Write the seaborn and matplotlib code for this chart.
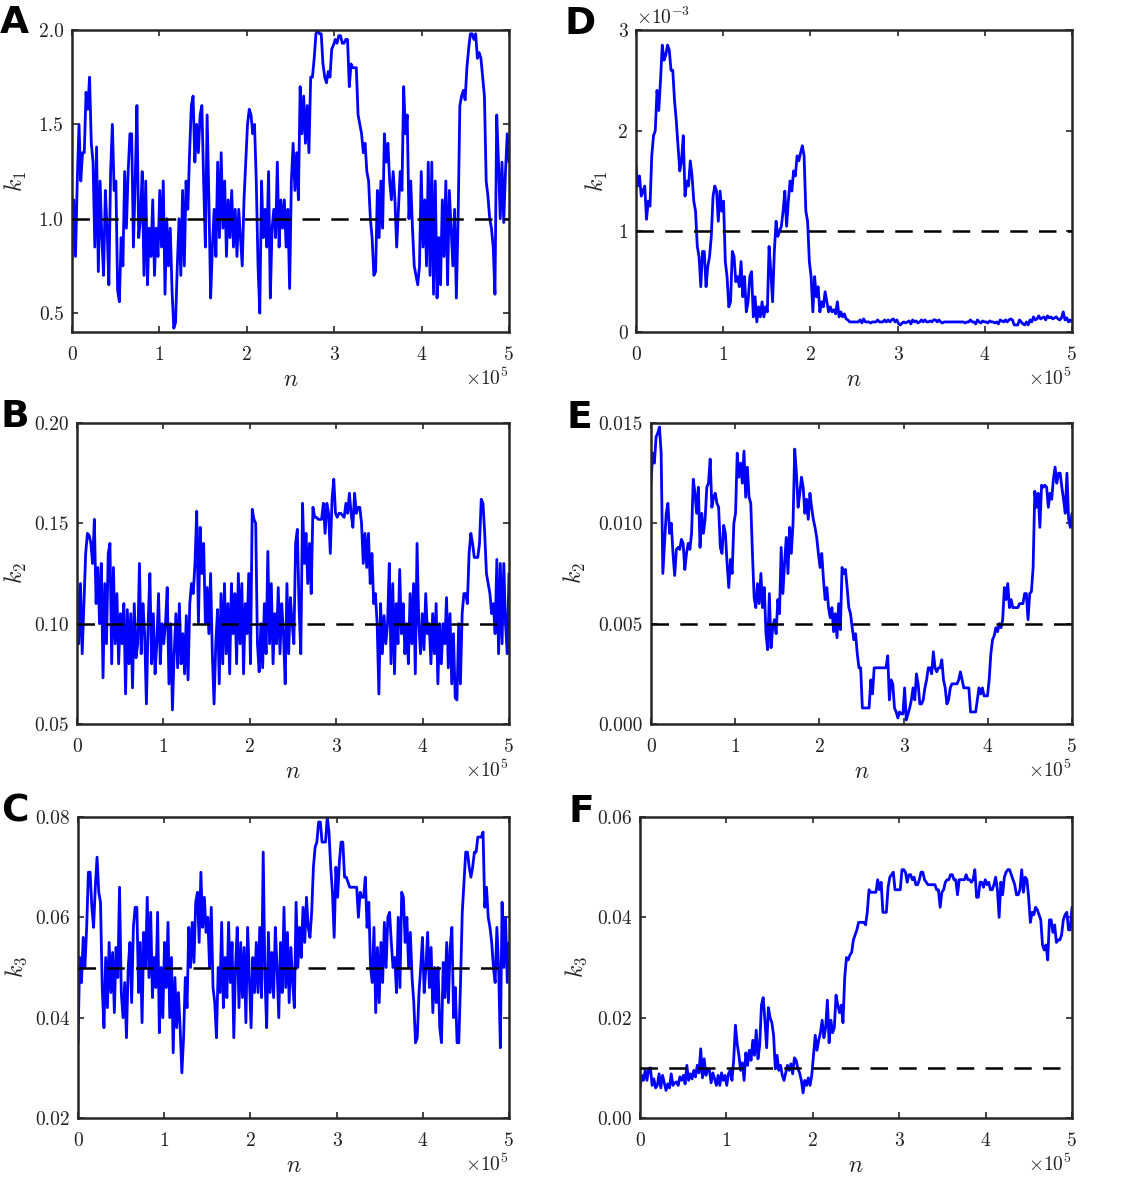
import numpy as np
import matplotlib
matplotlib.use("Agg")
import matplotlib.pyplot as plt
from matplotlib.ticker import FuncFormatter, FormatStrFormatter
import seaborn as sns

# ---------------- data ----------------
n_max = 5e5

k1_A = [
    0.78, 1.10, 0.80, 1.20, 1.50, 1.20, 1.35, 1.35, 1.67, 1.58,
    1.75, 1.40, 1.30, 0.85, 1.38, 0.72, 1.20, 0.90, 0.70, 1.15,
    0.95, 0.65, 1.25, 1.50, 1.15, 1.20, 0.62, 0.56, 0.90, 0.75,
    1.25, 0.95, 1.25, 1.45, 1.45, 0.85, 1.20, 1.60, 0.90, 1.00,
    1.25, 0.70, 1.20, 0.65, 0.95, 0.80, 1.10, 0.70, 0.95, 0.80,
    1.15, 0.85, 1.20, 0.60, 1.00, 0.75, 0.95, 0.62, 0.42, 0.45,
    0.75, 1.00, 0.70, 1.15, 0.75, 1.20, 1.05, 1.35, 1.60, 1.65,
    1.30, 1.50, 1.35, 1.55, 1.60, 1.20, 0.85, 1.55, 1.10, 0.58,
    0.85, 1.05, 0.80, 1.30, 0.90, 1.35, 0.95, 1.20, 0.80, 1.10,
    0.90, 1.15, 0.85, 1.05, 0.80, 1.05, 0.90, 0.75, 1.10, 1.30,
    1.50, 1.58, 1.55, 1.45, 1.50, 1.20, 0.75, 0.50, 1.20, 0.90,
    1.05, 0.85, 1.25, 0.58, 0.95, 1.05, 0.90, 1.30, 0.85, 1.10,
    0.95, 1.10, 0.85, 1.05, 0.63, 1.20, 1.40, 1.15, 1.35, 1.10,
    1.70, 1.45, 1.65, 1.40, 1.60, 1.35, 1.75, 1.75, 1.85, 1.98,
    2.00, 1.98, 1.98, 1.82, 1.75, 1.72, 1.78, 1.75, 1.90, 1.92,
    1.95, 1.93, 1.97, 1.97, 1.93, 1.93, 1.95, 1.95, 1.70, 1.82,
    1.80, 1.80, 1.80, 1.55, 1.50, 1.45, 1.35, 1.40, 1.25, 1.20,
    1.00, 0.90, 0.70, 0.72, 1.15, 0.90, 1.20, 0.95, 1.45, 1.30,
    1.40, 1.20, 1.10, 1.25, 1.10, 0.85, 1.05, 1.25, 1.15, 1.70,
    1.45, 1.55, 1.00, 1.20, 0.95, 0.75, 0.70, 0.65, 0.75, 1.25,
    0.85, 1.10, 0.75, 1.30, 0.70, 1.30, 0.60, 1.20, 0.58, 0.90,
    0.65, 1.10, 0.80, 1.20, 0.65, 1.15, 0.95, 0.75, 1.05, 0.58,
    1.00, 1.60, 1.65, 1.68, 1.63, 1.80, 1.90, 1.98, 1.98, 1.95,
    1.98, 1.85, 1.88, 1.85, 1.75, 1.65, 1.20, 1.12, 1.00, 0.95,
    0.85, 0.60, 1.55, 1.30, 1.00, 1.30, 0.98, 1.25, 1.45, 1.30,
]

k2_B = [
    0.120, 0.090, 0.120, 0.085, 0.110, 0.135, 0.145, 0.144, 0.140, 0.130,
    0.152, 0.110, 0.128, 0.100, 0.130, 0.073, 0.120, 0.090, 0.135, 0.140,
    0.080, 0.128, 0.090, 0.115, 0.080, 0.105, 0.090, 0.110, 0.065, 0.107,
    0.080, 0.105, 0.068, 0.110, 0.083, 0.090, 0.130, 0.085, 0.110, 0.095,
    0.060, 0.100, 0.125, 0.080, 0.105, 0.075, 0.090, 0.115, 0.080, 0.100,
    0.090, 0.100, 0.118, 0.070, 0.100, 0.057, 0.085, 0.105, 0.078, 0.110,
    0.080, 0.095, 0.075, 0.104, 0.072, 0.110, 0.120, 0.115, 0.130, 0.156,
    0.100, 0.148, 0.125, 0.140, 0.100, 0.118, 0.095, 0.125, 0.085, 0.060,
    0.090, 0.107, 0.070, 0.115, 0.080, 0.120, 0.085, 0.110, 0.075, 0.120,
    0.095, 0.115, 0.080, 0.125, 0.090, 0.120, 0.075, 0.110, 0.095, 0.125,
    0.080, 0.157, 0.152, 0.150, 0.090, 0.076, 0.100, 0.078, 0.110, 0.085,
    0.136, 0.090, 0.120, 0.080, 0.105, 0.090, 0.118, 0.085, 0.110, 0.095,
    0.070, 0.120, 0.085, 0.113, 0.100, 0.090, 0.140, 0.147, 0.108, 0.085,
    0.160, 0.130, 0.145, 0.120, 0.140, 0.115, 0.158, 0.153, 0.153, 0.152,
    0.152, 0.152, 0.160, 0.145, 0.160, 0.155, 0.135, 0.162, 0.172, 0.155,
    0.153, 0.155, 0.155, 0.154, 0.153, 0.160, 0.155, 0.165, 0.155, 0.148,
    0.165, 0.155, 0.158, 0.158, 0.150, 0.130, 0.145, 0.128, 0.145, 0.120,
    0.135, 0.110, 0.115, 0.100, 0.065, 0.110, 0.085, 0.104, 0.090, 0.100,
    0.130, 0.080, 0.120, 0.075, 0.110, 0.090, 0.127, 0.095, 0.110, 0.085,
    0.100, 0.080, 0.115, 0.090, 0.120, 0.075, 0.140, 0.100, 0.085, 0.105,
    0.087, 0.115, 0.095, 0.100, 0.080, 0.105, 0.085, 0.110, 0.070, 0.100,
    0.080, 0.100, 0.090, 0.113, 0.078, 0.105, 0.070, 0.095, 0.063, 0.062,
    0.100, 0.070, 0.105, 0.115, 0.115, 0.110, 0.135, 0.145, 0.140, 0.133,
    0.133, 0.133, 0.140, 0.162, 0.160, 0.145, 0.125, 0.120, 0.115, 0.105,
    0.110, 0.095, 0.132, 0.085, 0.130, 0.090, 0.130, 0.100, 0.085, 0.125,
]

k3_C = [
    0.035, 0.052, 0.047, 0.056, 0.050, 0.058, 0.069, 0.069, 0.062, 0.058,
    0.066, 0.072, 0.065, 0.063, 0.046, 0.038, 0.052, 0.042, 0.055, 0.045,
    0.053, 0.041, 0.054, 0.048, 0.066, 0.045, 0.040, 0.047, 0.036, 0.050,
    0.055, 0.043, 0.058, 0.062, 0.062, 0.045, 0.055, 0.039, 0.057, 0.050,
    0.064, 0.048, 0.061, 0.044, 0.052, 0.046, 0.061, 0.037, 0.050, 0.040,
    0.055, 0.046, 0.059, 0.040, 0.052, 0.033, 0.048, 0.038, 0.045, 0.038,
    0.029, 0.036, 0.048, 0.042, 0.058, 0.050, 0.059, 0.051, 0.063, 0.065,
    0.055, 0.069, 0.058, 0.064, 0.057, 0.060, 0.050, 0.062, 0.046, 0.043,
    0.036, 0.050, 0.045, 0.059, 0.042, 0.052, 0.044, 0.059, 0.047, 0.055,
    0.036, 0.050, 0.058, 0.042, 0.055, 0.044, 0.054, 0.039, 0.058, 0.048,
    0.038, 0.052, 0.045, 0.055, 0.045, 0.058, 0.044, 0.073, 0.048, 0.038,
    0.057, 0.045, 0.053, 0.044, 0.058, 0.050, 0.040, 0.055, 0.045, 0.062,
    0.046, 0.057, 0.043, 0.054, 0.047, 0.042, 0.063, 0.050, 0.058, 0.052,
    0.062, 0.055, 0.064, 0.058, 0.056, 0.061, 0.070, 0.074, 0.075, 0.079,
    0.079, 0.075, 0.075, 0.075, 0.080, 0.077, 0.070, 0.065, 0.056, 0.070,
    0.064, 0.071, 0.075, 0.075, 0.068, 0.068, 0.067, 0.066, 0.066, 0.066,
    0.066, 0.066, 0.060, 0.065, 0.064, 0.064, 0.068, 0.058, 0.063, 0.050,
    0.047, 0.058, 0.041, 0.054, 0.043, 0.055, 0.047, 0.059, 0.050, 0.060,
    0.061, 0.055, 0.050, 0.052, 0.045, 0.060, 0.046, 0.065, 0.064, 0.055,
    0.060, 0.050, 0.057, 0.048, 0.043, 0.035, 0.036, 0.045, 0.050, 0.056,
    0.045, 0.050, 0.057, 0.046, 0.054, 0.041, 0.050, 0.043, 0.050, 0.038,
    0.035, 0.051, 0.044, 0.055, 0.043, 0.054, 0.058, 0.040, 0.046, 0.035,
    0.035, 0.047, 0.061, 0.067, 0.073, 0.073, 0.070, 0.068, 0.070, 0.073,
    0.073, 0.076, 0.076, 0.076, 0.077, 0.062, 0.066, 0.060, 0.058, 0.055,
    0.050, 0.047, 0.058, 0.050, 0.034, 0.063, 0.050, 0.060, 0.047, 0.055,
]

# panel D values in units of 1e-3
k1_D_milli = [
    1.65, 1.45, 1.55, 1.35, 1.40, 1.45, 1.12, 1.30, 1.25, 1.75,
    1.95, 2.00, 2.40, 2.20, 2.50, 2.85, 2.70, 2.75, 2.85, 2.80,
    2.60, 2.60, 2.30, 2.10, 1.85, 1.60, 1.70, 1.95, 1.35, 1.50,
    1.45, 1.70, 1.55, 1.30, 1.20, 0.85, 0.75, 0.45, 0.80, 0.80,
    0.45, 0.65, 0.75, 0.95, 1.35, 1.45, 1.40, 1.10, 1.40, 1.20,
    1.30, 0.70, 0.55, 0.25, 0.30, 0.80, 0.75, 0.50, 0.55, 0.45,
    0.70, 0.35, 0.55, 0.20, 0.30, 0.55, 0.60, 0.15, 0.35, 0.10,
    0.25, 0.15, 0.30, 0.15, 0.25, 0.20, 0.85, 0.60, 0.30, 0.80,
    1.10, 0.95, 1.00, 1.05, 1.20, 1.40, 1.05, 1.30, 1.50, 1.40,
    1.60, 1.55, 1.75, 1.70, 1.78, 1.85, 1.75, 1.20, 1.10, 0.70,
    0.55, 0.20, 0.55, 0.35, 0.45, 0.20, 0.30, 0.25, 0.40, 0.30,
    0.20, 0.25, 0.20, 0.22, 0.18, 0.30, 0.15, 0.20, 0.15, 0.18,
    0.13, 0.12, 0.10, 0.10, 0.10, 0.10, 0.10, 0.10, 0.12, 0.09,
    0.13, 0.10, 0.10, 0.10, 0.09, 0.10, 0.10, 0.10, 0.12, 0.10,
    0.10, 0.10, 0.12, 0.10, 0.12, 0.10, 0.12, 0.13, 0.10, 0.12,
    0.08, 0.07, 0.09, 0.10, 0.09, 0.10, 0.11, 0.08, 0.12, 0.10,
    0.11, 0.09, 0.10, 0.12, 0.10, 0.12, 0.10, 0.10, 0.11, 0.10,
    0.12, 0.12, 0.10, 0.12, 0.10, 0.09, 0.10, 0.10, 0.10, 0.10,
    0.10, 0.10, 0.10, 0.10, 0.10, 0.10, 0.10, 0.10, 0.09, 0.10,
    0.10, 0.12, 0.10, 0.10, 0.08, 0.12, 0.10, 0.09, 0.11, 0.10,
    0.10, 0.09, 0.11, 0.10, 0.10, 0.09, 0.10, 0.08, 0.12, 0.11,
    0.10, 0.12, 0.10, 0.12, 0.13, 0.12, 0.07, 0.07, 0.07, 0.12,
    0.10, 0.08, 0.07, 0.10, 0.07, 0.12, 0.10, 0.15, 0.12, 0.13,
    0.16, 0.13, 0.14, 0.15, 0.12, 0.16, 0.14, 0.15, 0.13, 0.14,
    0.15, 0.13, 0.12, 0.14, 0.20, 0.12, 0.14, 0.10, 0.12, 0.10,
]

k2_E = [
    0.0120, 0.0135, 0.0130, 0.0143, 0.0145, 0.0148, 0.0135, 0.0075, 0.0090, 0.0105,
    0.0110, 0.0095, 0.0100, 0.0085, 0.0074, 0.0087, 0.0088, 0.0087, 0.0092, 0.0090,
    0.0077, 0.0085, 0.0090, 0.0087, 0.0095, 0.0122, 0.0115, 0.0105, 0.0118, 0.0088,
    0.0105, 0.0095, 0.0102, 0.0118, 0.0120, 0.0132, 0.0108, 0.0113, 0.0115, 0.0110,
    0.0108, 0.0088, 0.0085, 0.0099, 0.0095, 0.0080, 0.0068, 0.0082, 0.0075, 0.0100,
    0.0105, 0.0135, 0.0123, 0.0130, 0.0120, 0.0136, 0.0113, 0.0128, 0.0113, 0.0110,
    0.0085, 0.0063, 0.0058, 0.0070, 0.0060, 0.0075, 0.0058, 0.0068, 0.0045, 0.0037,
    0.0065, 0.0038, 0.0048, 0.0052, 0.0045, 0.0062, 0.0055, 0.0088, 0.0065, 0.0080,
    0.0093, 0.0075, 0.0098, 0.0085, 0.0100, 0.0137, 0.0125, 0.0108, 0.0115, 0.0123,
    0.0118, 0.0105, 0.0112, 0.0102, 0.0115, 0.0108, 0.0102, 0.0098, 0.0093, 0.0085,
    0.0078, 0.0085, 0.0072, 0.0062, 0.0068, 0.0058, 0.0053, 0.0058, 0.0046, 0.0055,
    0.0043, 0.0060, 0.0047, 0.0078, 0.0075, 0.0077, 0.0068, 0.0058, 0.0055, 0.0048,
    0.0042, 0.0045, 0.0035, 0.0028, 0.0028, 0.0008, 0.0008, 0.0008, 0.0008, 0.0008,
    0.0022, 0.0015, 0.0028, 0.0028, 0.0028, 0.0028, 0.0028, 0.0028, 0.0028, 0.0028,
    0.0034, 0.0012, 0.0022, 0.0020, 0.0008, 0.0006, 0.0003, 0.0006, 0.0005, 0.0005,
    0.0018, 0.0002, 0.0005, 0.0008, 0.0012, 0.0018, 0.0012, 0.0025, 0.0020, 0.0010,
    0.0010, 0.0012, 0.0018, 0.0022, 0.0028, 0.0028, 0.0025, 0.0036, 0.0028, 0.0026,
    0.0028, 0.0028, 0.0032, 0.0022, 0.0018, 0.0010, 0.0012, 0.0018, 0.0020, 0.0020,
    0.0020, 0.0020, 0.0022, 0.0026, 0.0022, 0.0018, 0.0018, 0.0018, 0.0018, 0.0006,
    0.0006, 0.0006, 0.0006, 0.0012, 0.0018, 0.0015, 0.0018, 0.0014, 0.0014, 0.0014,
    0.0022, 0.0035, 0.0042, 0.0044, 0.0048, 0.0046, 0.0050, 0.0048, 0.0052, 0.0068,
    0.0062, 0.0070, 0.0058, 0.0062, 0.0058, 0.0058, 0.0058, 0.0058, 0.0060, 0.0060,
    0.0060, 0.0065, 0.0065, 0.0052, 0.0065, 0.0066, 0.0078, 0.0116, 0.0108, 0.0115,
    0.0098, 0.0119, 0.0118, 0.0119, 0.0118, 0.0108, 0.0115, 0.0112, 0.0122, 0.0128,
    0.0120, 0.0125, 0.0125, 0.0118, 0.0112, 0.0105, 0.0125, 0.0102, 0.0098, 0.0105,
]

k3_F = [
    0.0060, 0.0085, 0.0075, 0.0095, 0.0075, 0.0098, 0.0100, 0.0065, 0.0078, 0.0060,
    0.0065, 0.0088, 0.0060, 0.0085, 0.0070, 0.0055, 0.0068, 0.0060, 0.0088, 0.0065,
    0.0070, 0.0072, 0.0065, 0.0082, 0.0075, 0.0085, 0.0068, 0.0105, 0.0075, 0.0088,
    0.0078, 0.0095, 0.0082, 0.0105, 0.0090, 0.0138, 0.0080, 0.0118, 0.0085, 0.0098,
    0.0095, 0.0070, 0.0090, 0.0078, 0.0065, 0.0085, 0.0065, 0.0090, 0.0075, 0.0085,
    0.0065, 0.0088, 0.0095, 0.0075, 0.0115, 0.0185, 0.0148, 0.0125, 0.0095, 0.0110,
    0.0075, 0.0130, 0.0105, 0.0135, 0.0115, 0.0155, 0.0125, 0.0175, 0.0118, 0.0145,
    0.0225, 0.0240, 0.0195, 0.0140, 0.0220, 0.0200, 0.0190, 0.0165, 0.0098, 0.0125,
    0.0095, 0.0105, 0.0085, 0.0075, 0.0090, 0.0105, 0.0095, 0.0108, 0.0088, 0.0120,
    0.0115, 0.0098, 0.0090, 0.0075, 0.0050, 0.0075, 0.0065, 0.0080, 0.0065, 0.0085,
    0.0125, 0.0165, 0.0135, 0.0155, 0.0170, 0.0195, 0.0160, 0.0180, 0.0235, 0.0150,
    0.0195, 0.0170, 0.0180, 0.0245, 0.0225, 0.0210, 0.0225, 0.0190, 0.0280, 0.0320,
    0.0315, 0.0325, 0.0330, 0.0355, 0.0365, 0.0375, 0.0390, 0.0390, 0.0390, 0.0390,
    0.0385, 0.0410, 0.0455, 0.0450, 0.0450, 0.0450, 0.0450, 0.0475, 0.0455, 0.0470,
    0.0410, 0.0410, 0.0410, 0.0460, 0.0480, 0.0485, 0.0490, 0.0455, 0.0455, 0.0455,
    0.0455, 0.0495, 0.0495, 0.0490, 0.0470, 0.0485, 0.0485, 0.0475, 0.0480, 0.0465,
    0.0465, 0.0475, 0.0490, 0.0490, 0.0475, 0.0470, 0.0465, 0.0465, 0.0465, 0.0465,
    0.0465, 0.0455, 0.0455, 0.0420, 0.0450, 0.0455, 0.0470, 0.0475, 0.0475, 0.0485,
    0.0485, 0.0475, 0.0475, 0.0445, 0.0475, 0.0475, 0.0475, 0.0475, 0.0485, 0.0475,
    0.0475, 0.0470, 0.0475, 0.0495, 0.0440, 0.0440, 0.0470, 0.0470, 0.0460, 0.0475,
    0.0465, 0.0470, 0.0455, 0.0455, 0.0465, 0.0480, 0.0455, 0.0400, 0.0470, 0.0445,
    0.0480, 0.0490, 0.0495, 0.0495, 0.0485, 0.0475, 0.0465, 0.0445, 0.0445, 0.0455,
    0.0495, 0.0450, 0.0480, 0.0475, 0.0440, 0.0390, 0.0410, 0.0405, 0.0420, 0.0415,
    0.0405, 0.0395, 0.0345, 0.0335, 0.0345, 0.0315, 0.0395, 0.0395, 0.0370, 0.0385,
    0.0350, 0.0355, 0.0355, 0.0365, 0.0395, 0.0405, 0.0410, 0.0375, 0.0375, 0.0420,
]

true_values = {"A": 1.0, "B": 0.10, "C": 0.05, "D": 1.0e-3, "E": 0.005, "F": 0.01}
ylabels = {"A": r"$k_1$", "B": r"$k_2$", "C": r"$k_3$",
           "D": r"$k_1$", "E": r"$k_2$", "F": r"$k_3$"}
yticks = {"A": [0.5, 1.0, 1.5, 2.0], "B": [0.05, 0.10, 0.15, 0.20],
          "C": [0.02, 0.04, 0.06, 0.08], "D": [0, 1e-3, 2e-3, 3e-3],
          "E": [0.0, 0.005, 0.010, 0.015], "F": [0.0, 0.02, 0.04, 0.06]}
ylims = {"A": (0.4, 2.0), "B": (0.05, 0.20), "C": (0.02, 0.08),
         "D": (0.0, 3e-3), "E": (0.0, 0.015), "F": (0.0, 0.06)}
xticks = [0, 1e5, 2e5, 3e5, 4e5, 5e5]

# ---------------- style ----------------
sns.set_style("ticks")
plt.rcParams["font.family"] = ["cmr10", "DejaVu Serif"]
plt.rcParams["mathtext.fontset"] = "cm"
plt.rcParams["axes.formatter.use_mathtext"] = True
plt.rcParams["axes.unicode_minus"] = False

W, H = 1125, 1182
fig = plt.figure(figsize=(W / 100, H / 100), dpi=100)

# pixel boxes (left, top, right, bottom) and label positions
boxes = {
    "A": (72, 30, 509, 332), "B": (77, 423, 509, 724), "C": (78, 817, 509, 1118),
    "D": (636, 30, 1072, 332), "E": (651, 423, 1072, 724), "F": (640, 817, 1072, 1118),
}
ylabel_x = {"A": 16, "B": 16, "C": 16, "D": 597, "E": 575, "F": 576}
letter_pos = {"A": (0, 33), "B": (0, 427), "C": (1, 822),
              "D": (565, 34), "E": (566, 428), "F": (568, 822)}

series = {"A": np.array(k1_A), "B": np.array(k2_B), "C": np.array(k3_C),
          "D": np.array(k1_D_milli) * 1e-3, "E": np.array(k2_E), "F": np.array(k3_F)}

yfmt = {"A": FormatStrFormatter("%.1f"), "B": FormatStrFormatter("%.2f"),
        "C": FormatStrFormatter("%.2f"), "D": FuncFormatter(lambda v, p: f"{v*1e3:.0f}"),
        "E": FormatStrFormatter("%.3f"), "F": FormatStrFormatter("%.2f")}

spine_col = "#262626"
for key, (l, t, r, b) in boxes.items():
    ax = fig.add_axes([l / W, 1 - b / H, (r - l) / W, (b - t) / H])
    vals = series[key]
    n = np.linspace(0, n_max, len(vals))
    sns.lineplot(x=n, y=vals, ax=ax, color="#0000ff", lw=2.0,
                 estimator=None, zorder=2)
    ax.axhline(true_values[key], color="black", lw=1.8,
               ls=(0, (7, 4.5)), zorder=3)
    ax.set_xlim(0, n_max)
    ax.set_ylim(*ylims[key])
    ax.set_xticks(xticks)
    ax.set_yticks(yticks[key])
    ax.xaxis.set_major_formatter(FuncFormatter(lambda v, p: f"{v/1e5:.0f}"))
    ax.yaxis.set_major_formatter(yfmt[key])
    ax.tick_params(direction="in", length=4, width=1.2, colors=spine_col,
                   labelcolor="#222222", labelsize=14, top=True, right=True)
    ax.tick_params(axis="x", pad=10)
    ax.tick_params(axis="y", pad=6)
    for s in ax.spines.values():
        s.set_visible(True)
        s.set_linewidth(1.8)
        s.set_color(spine_col)
    ax.set_facecolor("white")

    # axis labels
    ax.set_xlabel(r"$n$", fontsize=17, color="#222222")
    ax.xaxis.label.set_va("center")
    ax.xaxis.set_label_coords(0.5, -48 / (b - t))
    ax.set_ylabel(ylabels[key], fontsize=17, color="#222222")
    ax.yaxis.label.set_va("center")
    ax.yaxis.set_label_coords((ylabel_x[key] - l) / (r - l), 0.5)

    # exponent annotations
    ax.text(1.0, -46 / (b - t), r"$\times10^{5}$", transform=ax.transAxes,
            ha="right", va="center", fontsize=14, color="#222222")
    if key == "D":
        ax.text(0.0, 1 + 6 / (b - t), r"$\times10^{-3}$", transform=ax.transAxes,
                ha="left", va="baseline", fontsize=14, color="#222222")

    lx, ly = letter_pos[key]
    fig.text(lx / W, 1 - ly / H, key, fontsize=27, fontweight="bold",
             family="DejaVu Sans", ha="left", va="baseline", color="black")

fig.savefig("out.png", dpi=100, facecolor="white")
